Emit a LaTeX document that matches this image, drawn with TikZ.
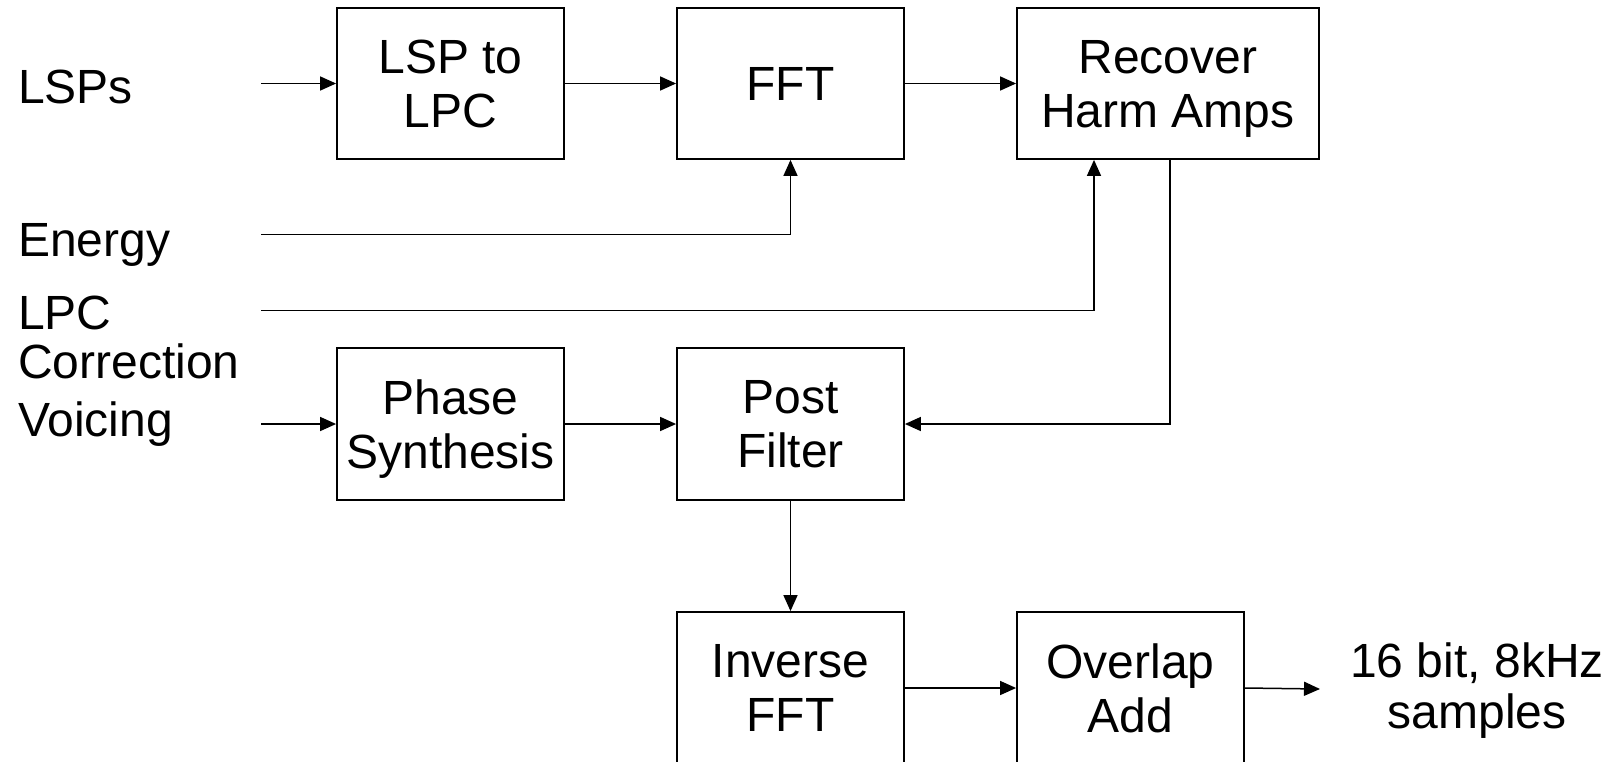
\documentclass[tikz,border=0pt]{standalone}
\usepackage{fontspec}
\setmainfont{Liberation Sans}
\usetikzlibrary{arrows.meta}
\begin{document}
\begin{tikzpicture}[x=1pt,y=-1pt,
  block/.style={draw, line width=1.8pt, inner sep=0pt, align=center,
    text depth=0pt, font=\fontsize{48}{54}\selectfont},
  lbl/.style={inner sep=0pt, anchor=base west, align=left,
    font=\fontsize{48}{49}\selectfont},
  wire/.style={line width=1.5pt},
  flow/.style={wire, -{Triangle[length=16pt,width=14pt]}}]
\clip (0,0) rectangle (1615,761);
\fill[white] (0,0) rectangle (1615,761);

% processing blocks
\node[block, minimum width=227pt, minimum height=151pt] (lsp)   at (450.5,83.5) {LSP to\\LPC};
\node[block, minimum width=227pt, minimum height=151pt] (fft)   at (790.5,83.5) {FFT};
\node[block, minimum width=302pt, minimum height=151pt] (rec)   at (1168,83.5)  {Recover\\Harm Amps};
\node[block, minimum width=227pt, minimum height=152pt] (phase) at (450.5,424)  {Phase\\Synthesis};
\node[block, minimum width=227pt, minimum height=152pt] (post)  at (790.5,424)  {Post\\Filter};
\node[block, minimum width=227pt, minimum height=152pt] (inv)   at (790.5,688)  {Inverse\\FFT};
\node[block, minimum width=227pt, minimum height=152pt] (ovl)   at (1130.5,688) {Overlap\\Add};

% input and output labels (base anchor sits on the last line)
\node[lbl] (lsps)    at (18,103) {LSPs};
\node[lbl] (energy)  at (18,256) {Energy};
\node[lbl] (lpcc)    at (18,378) {LPC\\Correction};
\node[lbl] (voicing) at (18,436) {Voicing};
\node[inner sep=0pt, align=center, text depth=0pt,
  font=\fontsize{48}{51}\selectfont] (out) at (1477,686) {16 bit, 8kHz\\samples};

% free ends of the signal lines
\coordinate (inLSP) at (261,83.5);
\coordinate (inE)   at (261,234.7);
\coordinate (inL)   at (261,310.5);
\coordinate (inV)   at (261,424);
\coordinate (outS)  at (1320,689);

% signal flow
\draw[flow] (inLSP) -- (lsp.west);
\draw[flow] (lsp.east) -- (fft.west);
\draw[flow] (fft.east) -- (rec.west);
\draw[flow] (inE) -| (fft.south);
\draw[flow] (inL) -| ([xshift=-74pt]rec.south);
\draw[flow] ([xshift=2pt]rec.south) |- (post.east);
\draw[flow] (inV) -- (phase.west);
\draw[flow] (phase.east) -- (post.west);
\draw[flow] (post.south) -- (inv.north);
\draw[flow] (inv.east) -- (ovl.west);
\draw[flow] (ovl.east) -- (outS);
\end{tikzpicture}
\end{document}
